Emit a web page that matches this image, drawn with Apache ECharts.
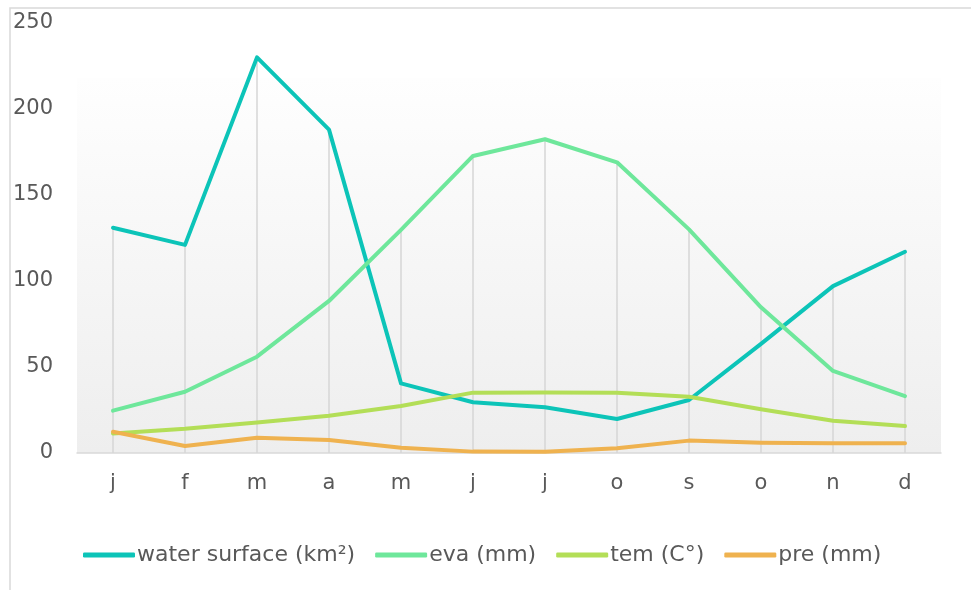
<!DOCTYPE html>
<html>
<head>
<meta charset="utf-8">
<script src="https://cdn.jsdelivr.net/npm/echarts@6/dist/echarts.min.js"></script>
<style>
html,body{margin:0;padding:0;background:#fff;}
#chart{width:971px;height:590px;}
</style>
</head>
<body>
<div id="chart"></div>
<script>
var categories = ['j','f','m','a','m','j','j','o','s','o','n','d'];
var waterSurface = [131, 121, 230, 188, 40.5, 29.5, 26.6, 19.8, 30.8, 63.4, 97, 117];
var eva = [24.6, 35.6, 56, 88.4, 129.7, 172.7, 182.4, 169, 130, 84.7, 47.7, 33.1];
var tem = [11.4, 14.1, 17.8, 21.7, 27.3, 35.1, 35.2, 35, 32.7, 25.4, 18.8, 15.7];
var pre = [12.4, 4.1, 8.9, 7.6, 3.1, 0.8, 0.7, 2.7, 7.2, 6, 5.6, 5.6];
var seriesNames = ['water surface (km²)', 'eva (mm)', 'tem (C°)', 'pre (mm)'];
var yTicks = [0, 50, 100, 150, 200, 250];

var dropLines = categories.map(function (c, i) {
  return Math.max(waterSurface[i], eva[i], tem[i], pre[i]);
});

var colors = ['#0cc4b8', '#6ee79b', '#b3de57', '#efb24f'];
var FONT = 'DejaVu Sans';

var chart = echarts.init(document.getElementById('chart'), null, {renderer: 'canvas'});

function lineSeries(name, data, color) {
  return {
    name: name,
    type: 'line',
    data: data,
    symbol: 'none',
    smooth: false,
    lineStyle: {color: color, width: 4, cap: 'round', join: 'round'},
    itemStyle: {color: color},
    z: 3
  };
}

chart.setOption({
  animation: false,
  backgroundColor: '#ffffff',
  graphic: [
    {
      type: 'rect',
      silent: true,
      z: -10,
      shape: {x: 10, y: 8, width: 1000, height: 640},
      style: {fill: 'none', stroke: '#d9d9d9', lineWidth: 1.5}
    },
    {
      type: 'rect',
      silent: true,
      z: -9,
      shape: {x: 77, y: 78, width: 864, height: 375},
      style: {
        fill: new echarts.graphic.LinearGradient(0, 0, 0, 1, [
          {offset: 0, color: '#fefefe'},
          {offset: 1, color: '#eeeeee'}
        ])
      }
    }
  ],
  grid: {left: 77, right: 30, top: 23, bottom: 137, containLabel: false},
  legend: {
    data: seriesNames,
    top: 539,
    left: 78,
    icon: 'roundRect',
    itemWidth: 52,
    itemHeight: 5,
    itemGap: 20,
    textStyle: {fontFamily: FONT, fontSize: 22, color: '#595959', padding: [0, 0, 0, -3]}
  },
  xAxis: {
    type: 'category',
    data: categories,
    boundaryGap: true,
    axisLine: {show: true, lineStyle: {color: '#d9d9d9', width: 1.5}},
    axisTick: {show: false},
    splitLine: {show: false},
    axisLabel: {fontFamily: FONT, fontSize: 21, color: '#595959', margin: 20}
  },
  yAxis: {
    type: 'value',
    min: yTicks[0],
    max: yTicks[yTicks.length - 1],
    interval: 50,
    axisLine: {show: false},
    axisTick: {show: false},
    splitLine: {show: false},
    axisLabel: {fontFamily: FONT, fontSize: 21, color: '#595959', margin: 24}
  },
  series: [
    {
      name: 'drop',
      type: 'bar',
      data: dropLines,
      barWidth: 1.5,
      silent: true,
      itemStyle: {color: '#d6d6d6'},
      z: 1
    },
    lineSeries(seriesNames[0], waterSurface, colors[0]),
    lineSeries(seriesNames[1], eva, colors[1]),
    lineSeries(seriesNames[2], tem, colors[2]),
    lineSeries(seriesNames[3], pre, colors[3])
  ]
});
</script>
</body>
</html>
